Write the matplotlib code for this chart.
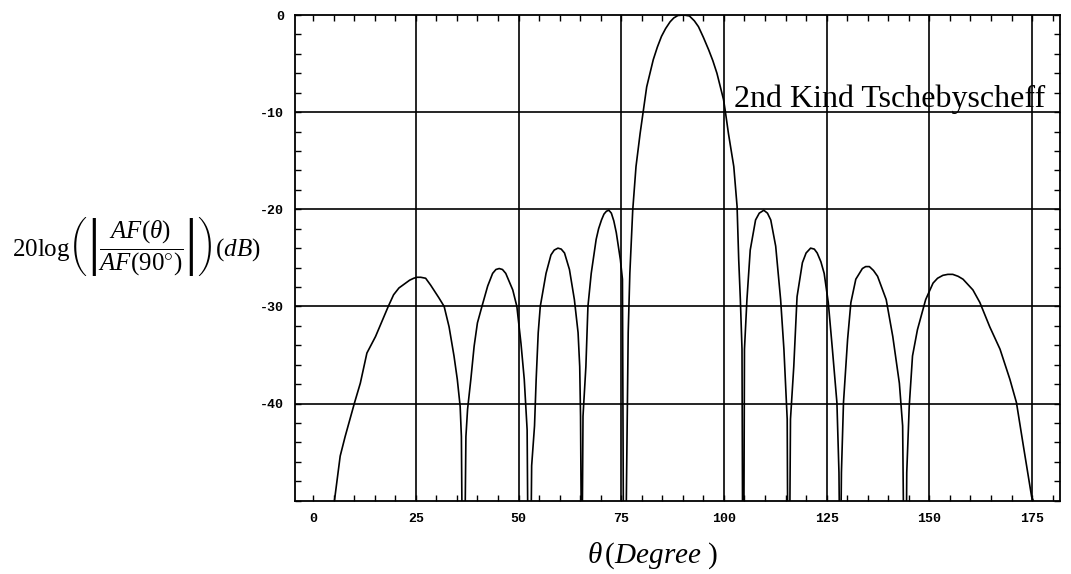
import matplotlib
matplotlib.use("Agg")
import matplotlib.pyplot as plt
import numpy as np

# ---- data (theta in degrees, level in dB); -60 marks a null (clipped) ----
theta = [5.2, 6.6, 7.8, 10.1, 11.5, 13.1, 15.2, 16.8, 18.3, 19.6, 20.9, 22.5, 23.5, 24.5, 25.3, 26.2, 27.4,
         28.6, 30.6, 31.9, 33.1, 34.3, 35.1, 35.8, 36.1, 36.4,
         36.8, 37.2, 37.6, 38.4, 39.2, 40.0, 41.1, 42.5, 43.7, 44.5, 45.3, 46.1, 46.9, 48.6, 49.6, 50.6,
         51.4, 52.1, 52.4,
         52.9, 53.2, 53.9, 54.3, 54.8, 55.3, 56.7, 57.9, 58.7, 59.6, 60.4, 61.2, 62.4, 63.6, 64.5, 64.9,
         65.1, 65.4,
         65.7, 66.4, 66.9, 67.7, 68.9, 69.5, 70.2, 70.8, 71.4, 72.0, 72.6, 73.2, 73.8, 74.8, 75.3, 75.6,
         76.0, 76.3, 76.7, 77.1, 77.8, 78.6, 79.6, 80.4, 81.2, 82.8, 83.8, 84.8, 85.8, 86.9, 87.8, 88.8,
         90.2, 91.6, 92.8, 93.8, 95.0, 96.3, 97.3, 98.3, 99.9, 100.3, 101.1, 102.4, 103.2, 103.6, 104.0,
         104.4, 104.6,
         104.8, 105.0, 105.6, 106.4, 107.7, 108.6, 109.7, 110.6, 111.4, 112.6, 113.8, 114.6, 115.4, 115.6,
         115.9, 116.2, 117.0, 117.8, 119.1, 120.0, 121.1, 122.0, 122.7, 123.6, 124.4, 125.4, 126.4,
         127.5, 128.0, 128.3,
         128.6, 129.1, 130.1, 130.9, 132.1, 133.7, 134.5, 135.4, 136.4, 137.4, 139.5, 141.1, 142.7,
         143.5, 143.9,
         144.3, 144.5, 145.1, 145.9, 147.1, 149.1, 150.9, 152.0, 153.3, 154.5, 155.7, 157.0, 158.2,
         160.6, 162.3, 164.7, 167.2, 169.6, 171.2, 172.9, 174.9, 175.3]
level_db = [-50.0, -45.4, -43.4, -39.9, -37.9, -34.8, -33.1, -31.5, -30.0, -28.8, -28.1, -27.6, -27.3, -27.1, -27.0, -27.0, -27.1,
            -27.8, -29.1, -30.0, -32.1, -35.1, -37.5, -40.3, -43.4, -60.0,
            -60.0, -43.4, -40.6, -37.5, -34.1, -31.7, -30.0, -27.9, -26.6, -26.2, -26.1, -26.2, -26.6, -28.3, -30.0, -33.8,
            -37.5, -42.7, -60.0,
            -60.0, -46.4, -42.3, -37.5, -32.7, -30.0, -26.6, -24.7, -24.2, -24.0, -24.1, -24.5, -26.2, -29.3, -32.7, -36.2,
            -41.3, -60.0,
            -41.3, -36.2, -30.0, -26.6, -23.1, -22.0, -21.1, -20.5, -20.2, -20.1, -20.4, -21.2, -22.4, -25.2, -27.2, -60.0,
            -60.0, -47.8, -32.7, -26.6, -20.1, -15.6, -12.2, -9.8, -7.4, -4.6, -3.3, -2.2, -1.4, -0.7, -0.3, -0.05,
            0.0, -0.1, -0.6, -1.2, -2.3, -3.6, -4.7, -6.0, -8.7, -9.8, -12.2, -15.6, -19.7, -25.2, -29.3,
            -34.4, -60.0,
            -60.0, -34.4, -29.3, -24.2, -21.1, -20.4, -20.1, -20.4, -21.1, -23.8, -29.3, -34.4, -41.6, -60.0,
            -60.0, -41.6, -36.2, -29.0, -25.5, -24.5, -24.0, -24.1, -24.5, -25.4, -26.6, -29.6, -34.4,
            -39.9, -47.1, -60.0,
            -47.1, -39.9, -33.4, -29.6, -27.2, -26.1, -25.9, -25.9, -26.3, -26.9, -29.3, -33.1, -37.9,
            -42.3, -60.0,
            -60.0, -47.1, -40.3, -35.1, -32.4, -29.3, -27.6, -27.1, -26.8, -26.7, -26.7, -26.9, -27.2,
            -28.3, -29.6, -32.1, -34.4, -37.5, -39.9, -44.4, -49.6, -50.0]

x_ticks = [0, 25, 50, 75, 100, 125, 150, 175]
x_tick_labels = ["0", "25", "50", "75", "100", "125", "150", "175"]
y_ticks = [0, -10, -20, -30, -40]
y_tick_labels = ["0", "-10", "-20", "-30", "-40"]
x_grid = [25, 50, 75, 100, 125, 150, 175]
y_grid = [-10, -20, -30, -40]
curve_label = "2nd Kind Tschebyscheff"

plt.rcParams['mathtext.fontset'] = 'custom'
plt.rcParams['mathtext.rm'] = 'Liberation Serif'
plt.rcParams['mathtext.it'] = 'Liberation Serif:italic'
plt.rcParams['mathtext.bf'] = 'Liberation Serif:bold'

fig = plt.figure(figsize=(10.71, 5.74), dpi=100)
ax = fig.add_axes([295/1071, 1 - 500.7/574, (1060-295)/1071, (500.7-15)/574])

for gx in x_grid:
    ax.axvline(gx, color='black', lw=1.2, zorder=1)
for gy in y_grid:
    ax.axhline(gy, color='black', lw=1.2, zorder=1)

ax.plot(theta, level_db, color='black', lw=1.2, zorder=2)

ax.set_xlim(-4.4, 181.8)
ax.set_ylim(-50, 0)

ax.set_xticks(x_ticks)
ax.set_xticklabels(x_tick_labels)
ax.set_yticks(y_ticks)
ax.set_yticklabels(y_tick_labels)
ax.set_xticks(np.arange(0, 181, 5), minor=True)
ax.set_yticks(np.arange(-50, 0.1, 2), minor=True)

for lab in ax.get_xticklabels() + ax.get_yticklabels():
    lab.set_family('Liberation Mono')
    lab.set_fontweight('bold')
    lab.set_fontsize(9.5)

ax.tick_params(which='both', direction='in', top=True, right=True, length=4, width=1, color='black')
ax.tick_params(axis='x', pad=9)
ax.tick_params(axis='y', pad=8)
for s in ax.spines.values():
    s.set_linewidth(1.3)

ax.text(102.5, -9.5, curve_label, family='Liberation Serif', fontsize=23, va='baseline', ha='left', zorder=3)

fig.text(12/1071, 1 - 246/574,
         r'$\mathrm{20log}\left(\left|\dfrac{AF(\theta)}{AF(90^{\circ})}\right|\right)(dB)$',
         fontsize=18, ha='left', va='center')

fig.text(587/1071, 1 - 563/574, r'$\theta\,(Degree\ )$', fontsize=21, ha='left', va='baseline')

fig.savefig('out.png', dpi=100)
